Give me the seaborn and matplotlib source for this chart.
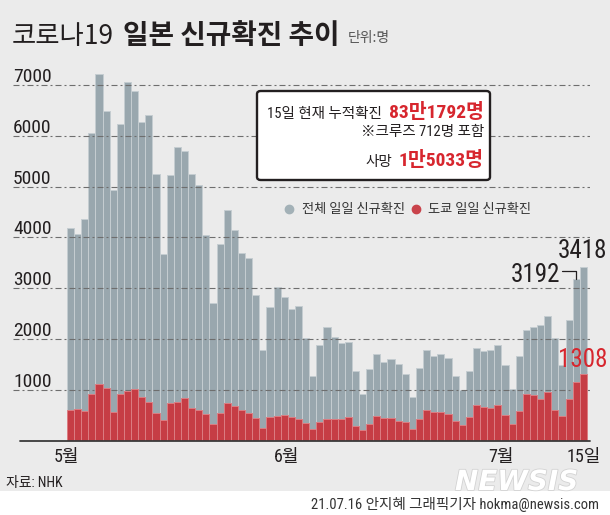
import matplotlib
matplotlib.use('Agg')
import numpy as np
import pandas as pd
import matplotlib.pyplot as plt
import seaborn as sns
from matplotlib import font_manager as fm
from matplotlib.patches import FancyBboxPatch, Rectangle
from matplotlib.lines import Line2D
import matplotlib.patheffects as pe

# ---------------- data ----------------
days = list(range(73))  # 2021-05-04 .. 2021-07-15
total = [4180, 4060, 4360, 6050, 7220, 6480, 4930, 6230, 7050, 6870,
         6260, 6410, 5250, 3670, 5220, 5780, 5700, 5250, 5030, 4040,
         2710, 3880, 4530, 4150, 3700, 3590, 2870, 1790, 2640, 3030,
         2820, 2590, 2650, 2020, 1280, 1880, 2240, 2040, 1930, 1940,
         1380, 930, 1420, 1710, 1550, 1620, 1510, 1310, 870, 1440,
         1780, 1670, 1710, 1640, 1280, 1000, 1380, 1820, 1760, 1780,
         1880, 1490, 1030, 1670, 2190, 2240, 2270, 2460, 2020, 1500,
         2380, 3192, 3418]
tokyo = [612, 625, 592, 914, 1125, 1033, 579, 928, 974, 1020,
         855, 776, 553, 421, 737, 770, 849, 651, 605, 539,
         342, 553, 750, 691, 615, 546, 447, 257, 474, 487,
         513, 474, 434, 355, 237, 375, 441, 441, 434, 467,
         303, 211, 342, 500, 454, 454, 395, 382, 234, 434,
         618, 572, 566, 533, 388, 316, 474, 717, 664, 658,
         717, 520, 342, 592, 921, 901, 822, 954, 612, 500,
         829, 1151, 1308]
ytick_vals = [1000, 2000, 3000, 4000, 5000, 6000, 7000]
xtick_pos = [-0.6, 30.3, 60.4, 72.0]
xtick_labels = ['5월', '6월', '7월', '15일']
title_light = '코로나19'
title_bold = '일본 신규확진 추이'
unit_text = '단위:명'
legend_labels = ['전체 일일 신규확진', '도쿄 일일 신규확진']
box_line1 = ('15일 현재 누적확진', '83만1792명')
box_line2 = '※크루즈 712명 포함'
box_line3 = ('사망', '1만5033명')
source_text = '자료: NHK'
credit_text = '21.07.16 안지혜 그래픽기자 hokma@newsis.com'

df = pd.DataFrame({'day': days, 'total': total, 'tokyo': tokyo})

# ---------------- style ----------------
def font_ok(name):
    try:
        fm.findfont(fm.FontProperties(family=name), fallback_to_default=False)
        return True
    except Exception:
        return False

KR = 'Noto Sans CJK KR'
NARROW = None
for cand in ['Liberation Sans Narrow', 'Roboto Condensed', 'Arial Narrow']:
    if font_ok(cand):
        NARROW = cand
        break
if NARROW is None:
    NARROW = 'Liberation Sans' if font_ok('Liberation Sans') else 'DejaVu Sans'
    NUMS = 0.88
else:
    NUMS = 1.0
MIX = [NARROW, KR, 'DejaVu Sans']

sns.set_theme(style='white')
plt.rcParams['font.family'] = [KR, 'DejaVu Sans']

BG = '#ebebeb'
GRAY = '#99a7ae'
GRAY_EDGE = '#c5cdd1'
RED = '#c63d45'
RED_EDGE = '#dc7d82'
DARK = '#231f20'
TXTRED = '#d7262e'

W, H = 610, 515
fig = plt.figure(figsize=(W / 100, H / 100), dpi=100, facecolor='white')
fig.add_artist(Rectangle((0, 24 / H), 1, 1, transform=fig.transFigure,
                         facecolor=BG, edgecolor='none', zorder=-5))

def fx(x):
    return x / W

def fy(y):
    return (H - y) / H

base_px = 441
ppk = 50.9  # px per 1000
ymax = 7500
ax = fig.add_axes([fx(13), fy(base_px), 577 / W, ymax / 1000 * ppk / H])
ax.set_facecolor('none')

sns.barplot(data=df, x='day', y='total', color=GRAY, saturation=1, width=1,
            edgecolor=GRAY_EDGE, linewidth=0.7, ax=ax, zorder=1)
sns.barplot(data=df, x='day', y='tokyo', color=RED, saturation=1, width=1,
            edgecolor=RED_EDGE, linewidth=0.7, ax=ax, zorder=2)

pitch = (585 - 66.7) / 73
ax.set_xlim(-0.5 - (66.7 - 13) / pitch, 72.5 + (588 - 585) / pitch)
ax.set_ylim(0, ymax)

for v in ytick_vals:
    ax.axhline(v, color='#6e6e6e', lw=0.8, ls=(0, (5.4, 2.7, 1.8, 2.7)), zorder=1.5)
    ax.annotate(f'{v}', xy=(0, v), xycoords=('axes fraction', 'data'),
                xytext=(0, 3), textcoords='offset pixels', ha='left', va='baseline',
                fontsize=14 * NUMS, family=NARROW, color=DARK)
ax.axhline(0, xmin=7 / 575, xmax=1, color='#3a3a3a', lw=1.3, zorder=3, clip_on=False)

for s in ax.spines.values():
    s.set_visible(False)
ax.set_yticks([])
ax.set_xticks(xtick_pos)
ax.set_xticklabels(xtick_labels, fontsize=13, color=DARK)
for lab in ax.get_xticklabels():
    lab.set_fontfamily(MIX)
ax.tick_params(axis='x', length=0, pad=5)
ax.set_xlabel('')
ax.set_ylabel('')

# value annotations
n = len(total)
ax.annotate(f'{total[-1]}', xy=(n - 1, total[-1]), xytext=(24, 9), textcoords='offset pixels',
            ha='right', va='baseline', fontsize=18 * NUMS, family=NARROW, color=DARK)
ax.annotate(f'{total[-2]}', xy=(n - 2, total[-2]), xytext=(-16, -3), textcoords='offset pixels',
            ha='right', va='baseline', fontsize=18 * NUMS, family=NARROW, color=DARK)
ax.annotate(f'{tokyo[-1]}', xy=(n - 1, tokyo[-1]), xytext=(24, 7), textcoords='offset pixels',
            ha='right', va='baseline', fontsize=18 * NUMS, family=NARROW, color=TXTRED)
lead_y = total[-2] + 7.8 / ppk * 1000
ax.plot([n - 2 - 14.3 / pitch, n - 2, n - 2], [lead_y, lead_y, total[-2]],
        color=DARK, lw=0.9, zorder=4, clip_on=False)

# title
t1 = fig.text(fx(12), fy(44), title_light, fontsize=19, color=DARK, family=KR,
              ha='left', va='baseline')
r = fig.canvas.get_renderer()
bb = t1.get_window_extent(renderer=r)
t2 = fig.text(fx(bb.x1 + 9), fy(44), title_bold, fontsize=20, color=DARK, family=KR,
              fontweight='bold', ha='left', va='baseline')
bb2 = t2.get_window_extent(renderer=r)
fig.text(fx(bb2.x1 + 8), fy(42), unit_text, fontsize=10, color='#555555', family=KR,
         ha='left', va='baseline')

# info box
box = FancyBboxPatch((fx(257), fy(180)), (490 - 257) / W, 89 / H,
                     boxstyle='round,pad=0,rounding_size=0.006',
                     transform=fig.transFigure, facecolor='white', edgecolor=DARK,
                     lw=1.7, zorder=5)
fig.add_artist(box)

def right_pair(xr, yb, black, red, fs_b, fs_r, gap):
    tr = fig.text(fx(xr), fy(yb), red, ha='right', va='baseline', fontsize=fs_r,
                  color=TXTRED, fontweight='bold', family=MIX, zorder=6)
    b = tr.get_window_extent(renderer=r)
    fig.text(fx(b.x0 - gap), fy(yb), black, ha='right', va='baseline', fontsize=fs_b,
             color=DARK, family=MIX, zorder=6)

right_pair(484, 118, box_line1[0], box_line1[1], 10.5, 14 * NUMS, 7)
fig.text(fx(484), fy(136), box_line2, ha='right', va='baseline', fontsize=10.5,
         color=DARK, family=MIX, zorder=6)
right_pair(484, 166, box_line3[0], box_line3[1], 10.5, 14 * NUMS, 7)

# legend
fig.add_artist(Line2D([fx(289)], [fy(209)], marker='o', markersize=6, color='#a3b1b7',
                      lw=0, transform=fig.transFigure))
fig.text(fx(302), fy(209), legend_labels[0], ha='left', va='center', fontsize=9.5,
         color='#333333', family=KR)
fig.add_artist(Line2D([fx(416)], [fy(209)], marker='o', markersize=6, color='#c9434b',
                      lw=0, transform=fig.transFigure))
fig.text(fx(428), fy(209), legend_labels[1], ha='left', va='center', fontsize=9.5,
         color='#333333', family=KR)

# footer
fig.text(fx(455), fy(490), 'NEWSIS', fontsize=20, fontweight='bold', fontstyle='italic',
         family='DejaVu Sans', color='white', ha='left', va='baseline', zorder=-1,
         path_effects=[pe.withStroke(linewidth=1.2, foreground='#d2d2d2')])
fig.text(fx(6), fy(487), source_text, fontsize=10, color=DARK, family=MIX,
         ha='left', va='baseline')
fig.text(fx(599), fy(509), credit_text, fontsize=10.5, color='#333333', family=MIX,
         ha='right', va='baseline')

fig.savefig('out.png', dpi=100, facecolor=fig.get_facecolor())
